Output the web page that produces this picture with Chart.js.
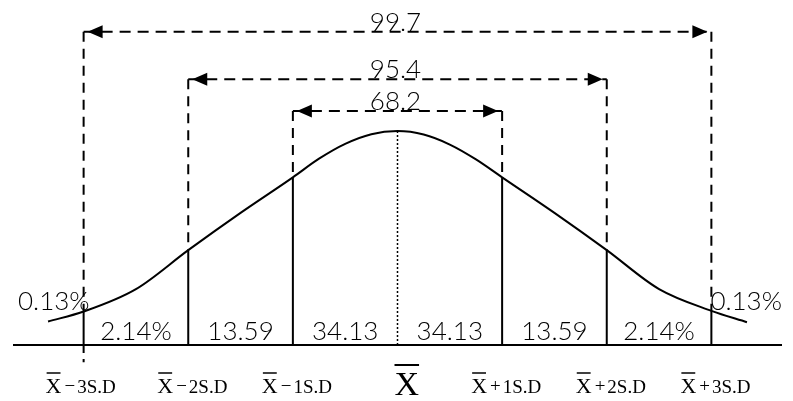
<!DOCTYPE html>
<html>
<head>
<meta charset="utf-8">
<script src="https://cdn.jsdelivr.net/npm/chart.js@4.4.0/dist/chart.umd.min.js"></script>
<style>
  html, body { margin: 0; padding: 0; background: #fff; }
  #wrap { width: 793px; height: 401px; }
</style>
</head>
<body>
<div id="wrap"><canvas id="normalChart"></canvas></div>
<script>
// bell curve: x in S.D units, y = height of the curve (0-100 of the plot)
const curveX = [-3.34, -3, -2.5, -2, -1.5, -1, -0.75, -0.5, -0.25, 0, 0.25, 0.5, 0.75, 1, 1.5, 2, 2.5, 3, 3.34];
const curveY = [6.8, 9.7, 16.2, 27.5, 38.3, 48.6, 54.0, 58.3, 61.1, 62.0, 61.0, 58.1, 53.8, 48.6, 38.3, 27.5, 16.2, 9.9, 6.6];

// the three ranges, their labels and the height of their arrows
const rangeSD = [3, 2, 1];
const rangeLabels = ["99.7", "95.4", "68.2"];
const rangeLevel = [90.8, 77.0, 67.8];

// percentages of the strips, left to right
const stripLabels = ["0.13%", "2.14%", "13.59", "34.13", "34.13", "13.59", "2.14%", "0.13%"];

// S.D marks on the axis
const sdMarks = [-3, -2, -1, 0, 1, 2, 3];
const sdSigns = ["\u2212", "\u2212", "\u2212", "", "+", "+", "+"];
const sdNames = ["3S.D", "2S.D", "1S.D", "", "1S.D", "2S.D", "3S.D"];

const numFont = "300 26px Lato, 'Noto Sans', sans-serif";
const serif = "'Liberation Serif', 'DejaVu Serif', serif";

// height of the curve at a S.D mark
function curveAt(k) {
    return curveY[curveX.indexOf(k)];
}

function levelFor(k) {
    return rangeLevel[rangeSD.indexOf(Math.abs(k))];
}

function seg(x, y1, y2) {
    return [{ x: x, y: y1 }, { x: x, y: y2 }];
}

const lineBase = {
    borderColor: "#000",
    borderWidth: 2,
    pointRadius: 0,
    showLine: true,
    fill: false,
    clip: false,
};

const datasets = [];

// the curve
datasets.push({
    ...lineBase,
    label: "curve",
    data: curveX.map((x, i) => ({ x: x, y: curveY[i] })),
    cubicInterpolationMode: "monotone",
});

// dashed range lines
rangeSD.forEach((r, i) => {
    datasets.push({
        ...lineBase,
        label: rangeLabels[i],
        data: [{ x: -r, y: rangeLevel[i] }, { x: r, y: rangeLevel[i] }],
        borderDash: [11, 7],
    });
});

// S.D lines: dashed down to the curve, solid below it
sdMarks.forEach((k) => {
    if (k === 0) {
        datasets.push({
            ...lineBase,
            borderWidth: 1.5,
            borderDash: [2, 2],
            data: seg(0, 0, curveAt(0)),
        });
        return;
    }
    datasets.push({ ...lineBase, borderDash: [10, 7], data: seg(k, levelFor(k), curveAt(k)) });
    datasets.push({ ...lineBase, data: seg(k, curveAt(k), 0) });
});
// the -3 line goes on a bit under the axis
datasets.push({ ...lineBase, borderDash: [8, 6], data: seg(-3, 0, -5) });

const textPlugin = {
    id: "textPlugin",
    afterDatasetsDraw(chart) {
        const ctx = chart.ctx;
        const xs = chart.scales.x;
        const ys = chart.scales.y;
        const area = chart.chartArea;
        const y0 = ys.getPixelForValue(0);

        ctx.save();
        ctx.strokeStyle = "#000";
        ctx.fillStyle = "#000";

        // axis line
        ctx.lineWidth = 2;
        ctx.beginPath();
        ctx.moveTo(area.left, y0);
        ctx.lineTo(area.right, y0);
        ctx.stroke();

        // arrow heads and range labels
        rangeSD.forEach((r, i) => {
            const y = ys.getPixelForValue(rangeLevel[i]);
            [-1, 1].forEach((s) => {
                const tip = xs.getPixelForValue(s * r) - s * 4;
                ctx.beginPath();
                ctx.moveTo(tip, y);
                ctx.lineTo(tip - s * 15, y - 6.5);
                ctx.lineTo(tip - s * 15, y + 6.5);
                ctx.closePath();
                ctx.fill();
            });
            ctx.font = numFont;
            ctx.textAlign = "center";
            ctx.textBaseline = "alphabetic";
            ctx.fillText(rangeLabels[i], xs.getPixelForValue(0) - 2, y - 1);
        });

        // strip percentages
        ctx.font = numFont;
        ctx.textBaseline = "alphabetic";
        stripLabels.forEach((t, i) => {
            if (i === 0) {
                ctx.textAlign = "right";
                ctx.fillText(t, xs.getPixelForValue(sdMarks[0]) + 6, y0 - 35);
            } else if (i === stripLabels.length - 1) {
                ctx.textAlign = "left";
                ctx.fillText(t, xs.getPixelForValue(sdMarks[sdMarks.length - 1]) - 1, y0 - 35);
            } else {
                const mid = (sdMarks[i - 1] + sdMarks[i]) / 2;
                ctx.textAlign = "center";
                ctx.fillText(t, xs.getPixelForValue(mid), y0 - 5);
            }
        });

        // axis labels: X-bar +/- n S.D
        ctx.textAlign = "left";
        sdMarks.forEach((k, i) => {
            const px = xs.getPixelForValue(k);
            if (sdNames[i] === "") {
                ctx.font = "34px " + serif;
                const w = ctx.measureText("X").width;
                const left = px - 3;
                ctx.fillText("X", left, y0 + 50);
                ctx.lineWidth = 2;
                ctx.beginPath();
                ctx.moveTo(left, y0 + 20);
                ctx.lineTo(left + w, y0 + 20);
                ctx.stroke();
                return;
            }
            let left = px - (k === -3 ? 38 : 31);
            ctx.font = "22px " + serif;
            const wx = ctx.measureText("X").width;
            ctx.fillText("X", left, y0 + 48);
            ctx.lineWidth = 1.5;
            ctx.beginPath();
            ctx.moveTo(left + 1, y0 + 28);
            ctx.lineTo(left + wx - 1, y0 + 28);
            ctx.stroke();
            left += wx + 3;
            ctx.font = "19px " + serif;
            ctx.fillText(sdSigns[i], left, y0 + 47);
            left += ctx.measureText(sdSigns[i]).width + 2;
            ctx.fillText(sdNames[i], left, y0 + 48);
        });
        ctx.restore();
    },
};

const ctx = document.getElementById("normalChart").getContext("2d");
new Chart(ctx, {
    type: "scatter",
    data: { datasets: datasets },
    options: {
        responsive: true,
        maintainAspectRatio: false,
        animation: false,
        layout: { padding: { top: 0, bottom: 56, left: 13, right: 11 } },
        scales: {
            x: { type: "linear", min: -3.675, max: 3.675, display: false },
            y: { min: 0, max: 100, display: false },
        },
        plugins: {
            legend: { display: false },
            tooltip: { enabled: false },
        },
    },
    plugins: [textPlugin],
});
</script>
</body>
</html>
